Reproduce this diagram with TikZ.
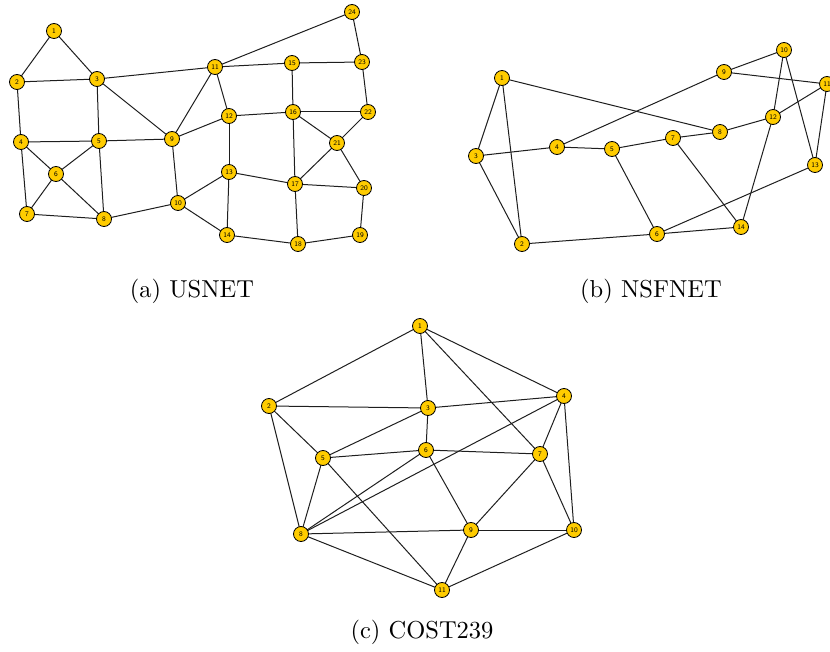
\documentclass[tikz,border=0pt]{standalone}
\usepackage{graphicx}
\usetikzlibrary{calc}
\definecolor{nodegold}{RGB}{255,204,0}
\definecolor{edgegray}{RGB}{30,30,30}
\tikzset{
  vtx/.style={circle,draw=black,line width=0.8pt,fill=nodegold,minimum size=15pt,inner sep=0pt,font=\fontsize{7}{8}\selectfont\sffamily},
  link/.style={draw=edgegray,line width=1pt},
  captext/.style={anchor=base,font=\fontsize{10}{12}\selectfont}
}
\newcommand{\subcapscaled}[1]{\scalebox{2.45}{#1}}
\begin{document}
\begin{tikzpicture}[x=1pt,y=-1pt]
\useasboundingbox (0,0) rectangle (830,652);
% ---------- USNET ----------
\foreach \n/\x/\y in {1/54/31,2/17/82,3/97/79,4/21/142,5/99/141,6/56/174,7/27/214,8/104/219,9/172/139,10/178/203,
11/215/67,12/229/116,13/229/172,14/227/235,15/292/63,16/293/112,17/295/184,18/298/244,19/360/235,20/364/188,
21/337/143,22/368/112,23/362/62,24/352/12}
  \coordinate (u\n) at (\x,\y);
\foreach \a/\b in {1/2,1/3,2/3,2/4,3/5,3/9,3/11,4/5,4/6,4/7,5/6,5/8,5/9,6/7,6/8,7/8,8/10,9/10,9/11,9/12,
10/13,10/14,11/12,11/15,11/24,12/13,12/16,13/14,13/17,14/18,15/16,15/23,16/17,16/21,16/22,17/18,17/20,17/21,
18/19,19/20,20/21,21/22,22/23,23/24}
  \draw[link] (u\a) -- (u\b);
\foreach \n in {1,...,24}
  \node[vtx] (U\n) at (u\n) {\n};
\node[captext] (capa) at (192,298) {\subcapscaled{(a) USNET}};
% ---------- NSFNET ----------
\foreach \n/\x/\y in {1/502/78,2/522/244,3/476/156,4/557/147,5/612/149,6/657/234,7/673/138,8/720/132,
9/724/72,10/784/50,11/827/84,12/773/117,13/815/165,14/741/227}
  \coordinate (n\n) at (\x,\y);
\foreach \a/\b in {1/3,1/2,1/8,2/3,2/6,3/4,4/5,4/9,5/7,5/6,6/14,6/13,7/8,7/14,8/12,9/10,9/11,10/12,10/13,
11/12,11/13,12/14}
  \draw[link] (n\a) -- (n\b);
\foreach \n in {1,...,14}
  \node[vtx] (N\n) at (n\n) {\n};
\node[captext] (capb) at (651,298) {\subcapscaled{(b) NSFNET}};
% ---------- COST239 ----------
\foreach \n/\x/\y in {1/420/326,2/269/406,3/428/408,4/564/396,5/323/458,6/426/450,7/540/454,8/301/534,
9/471/530,10/574/530,11/442/590}
  \coordinate (c\n) at (\x,\y);
\foreach \a/\b in {1/2,1/3,1/4,1/7,2/3,2/5,2/8,3/4,3/5,3/6,4/7,4/8,4/10,5/6,5/8,5/11,6/7,6/8,6/9,7/9,7/10,
8/9,8/11,9/10,9/11,10/11}
  \draw[link] (c\a) -- (c\b);
\foreach \n in {1,...,11}
  \node[vtx] (C\n) at (c\n) {\n};
\node[captext] (capc) at (422,638) {\subcapscaled{(c) COST239}};
\end{tikzpicture}
\end{document}
